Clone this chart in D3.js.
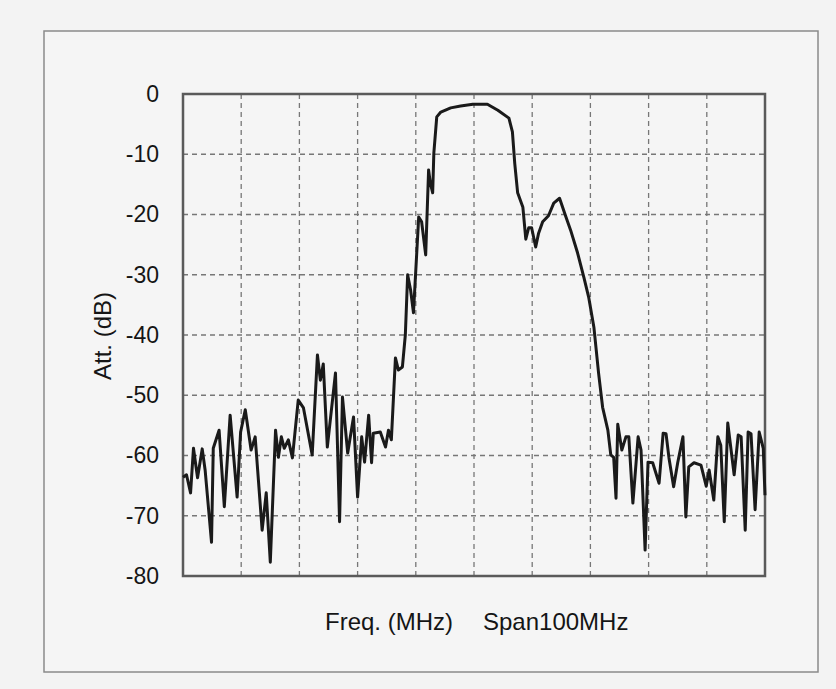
<!DOCTYPE html>
<html>
<head>
<meta charset="utf-8">
<title>Att. vs Freq.</title>
<script src="https://d3js.org/d3.v7.min.js"></script>
<style>
  html, body { margin: 0; padding: 0; background: #f3f3f3; }
  svg { display: block; }
  .tick-label { font-family: "Liberation Sans", Arial, sans-serif; font-size: 23px; fill: #151515; }
  .axis-title { font-family: "Liberation Sans", Arial, sans-serif; font-size: 24px; fill: #151515; }
</style>
</head>
<body>
<div id="chart"></div>
<script>
// frequency offset within the 100 MHz span
const freq = [0, 0.6, 1.3, 1.8, 2.5, 3.3, 3.8, 4.9, 5.2, 6.2, 7.1, 8.1, 9.3, 9.9, 10.7, 11.7,
  12.4, 13.6, 14.3, 15.0, 15.9, 16.4, 16.9, 17.4, 18.1, 18.8, 19.8, 20.7, 22.2, 23.1, 23.6,
  24.1, 24.8, 26.2, 26.9, 27.4, 28.3, 29.3, 30.0, 30.7, 31.2, 31.9, 32.4, 32.7, 33.9, 34.8,
  35.3, 35.8, 36.5, 37.0, 37.7, 38.2, 38.6, 39.1, 39.6, 40.5, 41.0, 41.7, 42.2, 42.5, 42.9,
  43.1, 43.6, 44.3, 46.0, 47.7, 49.8, 52.3, 54.1, 56.0, 56.6, 57.0, 57.5, 58.4, 58.9, 59.4,
  59.9, 60.6, 61.1, 61.8, 62.8, 63.7, 64.7, 65.8, 66.6, 67.8, 68.9, 69.7, 70.6, 71.4, 72.1,
  73.0, 73.5, 74.0, 74.4, 74.7, 75.4, 76.1, 76.6, 77.3, 78.2, 78.7, 79.4, 79.9, 80.7, 81.8,
  82.5, 83.0, 83.5, 84.3, 85.0, 85.9, 86.4, 86.9, 87.8, 89.0, 89.9, 90.4, 91.2, 91.9, 92.4,
  93.0, 93.6, 94.7, 95.4, 95.9, 96.6, 97.1, 97.6, 98.3, 99.0, 99.7, 100];

const att = [-63.6, -63.2, -66.2, -58.8, -63.7, -58.9, -62.4, -74.4, -58.8, -55.8, -68.5, -53.3,
  -66.9, -56.1, -52.4, -59.1, -56.9, -72.4, -66.2, -77.7, -55.8, -60.3, -56.9, -58.8, -57.4,
  -60.4, -50.8, -52.1, -59.9, -43.3, -47.5, -44.8, -58.6, -46.3, -71.0, -50.3, -59.6, -53.6,
  -66.9, -56.9, -61.1, -53.3, -61.2, -56.3, -56.1, -58.6, -55.8, -57.4, -43.8, -45.8, -45.3,
  -40.0, -30.0, -32.5, -36.3, -20.4, -21.2, -26.7, -12.6, -14.8, -16.4, -9.8, -3.8, -3.0,
  -2.3, -2.0, -1.7, -1.7, -2.7, -4.0, -6.3, -11.5, -16.4, -18.8, -24.1, -22.2, -22.2, -25.4,
  -23.1, -21.2, -20.2, -18.1, -17.3, -20.4, -22.6, -26.4, -30.5, -33.7, -38.7, -46.3, -52.0,
  -55.8, -59.9, -60.3, -67.1, -54.8, -59.1, -56.9, -56.9, -67.9, -56.9, -59.1, -75.7, -61.1,
  -61.2, -64.6, -56.3, -56.4, -60.4, -65.2, -61.2, -56.9, -70.2, -61.9, -61.2, -61.6, -65.1,
  -62.4, -67.4, -56.9, -58.3, -71.0, -54.6, -63.2, -56.6, -56.9, -72.4, -56.1, -56.4, -69.0,
  -56.1, -58.8, -66.6];

const yTicks = [0, -10, -20, -30, -40, -50, -60, -70, -80];
const xGrid = [10, 20, 30, 40, 50, 60, 70, 80, 90];

const width = 836, height = 689;
const plot = { left: 183, right: 765, top: 94, bottom: 576 };

const svg = d3.select("#chart").append("svg")
  .attr("width", width)
  .attr("height", height);

// paper frame
svg.append("rect")
  .attr("x", 44).attr("y", 31)
  .attr("width", 774).attr("height", 641)
  .attr("fill", "#f5f5f5")
  .attr("stroke", "#8a8a8a")
  .attr("stroke-width", 1.5);

const x = d3.scaleLinear().domain([0, 100]).range([plot.left, plot.right]);
const y = d3.scaleLinear().domain([-80, 0]).range([plot.bottom, plot.top]);

// grid
const grid = svg.append("g")
  .attr("stroke", "#777")
  .attr("stroke-width", 1.3)
  .attr("stroke-dasharray", "5,4");

grid.selectAll("line.v").data(xGrid).join("line")
  .attr("class", "v")
  .attr("x1", d => x(d)).attr("x2", d => x(d))
  .attr("y1", plot.top).attr("y2", plot.bottom);

grid.selectAll("line.h").data(yTicks.slice(1, -1)).join("line")
  .attr("class", "h")
  .attr("x1", plot.left).attr("x2", plot.right)
  .attr("y1", d => y(d)).attr("y2", d => y(d));

// plot border
svg.append("rect")
  .attr("x", plot.left).attr("y", plot.top)
  .attr("width", plot.right - plot.left)
  .attr("height", plot.bottom - plot.top)
  .attr("fill", "none")
  .attr("stroke", "#5a5a5a")
  .attr("stroke-width", 2.5);

// y axis labels (plain hyphen, as on the original)
const yAxis = d3.axisLeft(y).tickValues(yTicks).tickSize(0).tickPadding(24)
  .tickFormat(d => String(d));
const ya = svg.append("g")
  .attr("transform", `translate(${plot.left},0)`)
  .call(yAxis);
ya.select(".domain").remove();
ya.selectAll("text")
  .attr("class", "tick-label")
  .attr("font-family", null)
  .attr("font-size", null)
  .attr("fill", null);

// trace
const line = d3.line()
  .x((d, i) => x(freq[i]))
  .y(d => y(d));

svg.append("path")
  .datum(att)
  .attr("d", line)
  .attr("fill", "none")
  .attr("stroke", "#1a1a1a")
  .attr("stroke-width", 3)
  .attr("stroke-linejoin", "round");

// titles
svg.append("text")
  .attr("class", "axis-title")
  .attr("font-size", 25)
  .attr("transform", "translate(111,336) rotate(-90)")
  .attr("text-anchor", "middle")
  .text("Att. (dB)");

svg.append("text")
  .attr("class", "axis-title")
  .attr("x", 325).attr("y", 630)
  .text("Freq. (MHz)");

svg.append("text")
  .attr("class", "axis-title")
  .attr("x", 483).attr("y", 630)
  .text("Span100MHz");
</script>
</body>
</html>
